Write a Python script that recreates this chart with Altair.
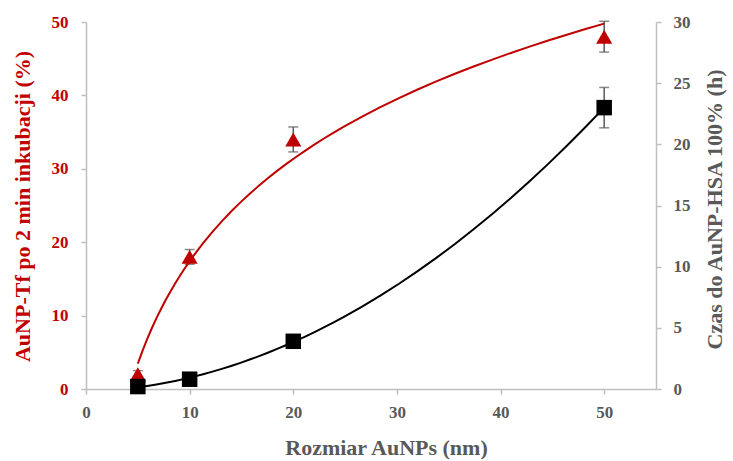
import altair as alt
import pandas as pd

# Data
sizes = [5, 10, 20, 50]                 # AuNP size (nm)
tf_pct = [2.0, 18.0, 34.0, 48.0]        # AuNP-Tf after 2 min incubation (%)
tf_err = [0.5, 1.0, 1.7, 2.1]
hsa_h = [0.2, 0.8, 3.9, 23.0]           # time to AuNP-HSA 100% (h)
hsa_err = [0.3, 0.3, 0.3, 1.65]

x_ticks = [0, 10, 20, 30, 40, 50]
left_ticks = [0, 10, 20, 30, 40, 50]
right_ticks = [0, 5, 10, 15, 20, 25, 30]

RED = "#C00000"
GRAY = "#595959"
AXIS_GRAY = "#BFBFBF"
FONT = "Liberation Serif"

df = pd.DataFrame({
    "size": sizes,
    "tf": tf_pct,
    "tf_lo": [v - e for v, e in zip(tf_pct, tf_err)],
    "tf_hi": [v + e for v, e in zip(tf_pct, tf_err)],
    "hsa": hsa_h,
    "hsa_lo": [v - e for v, e in zip(hsa_h, hsa_err)],
    "hsa_hi": [v + e for v, e in zip(hsa_h, hsa_err)],
})

x_title = "Rozmiar AuNPs (nm)"
left_title = "AuNP-Tf po 2 min inkubacji (%)"
right_title = "Czas do AuNP-HSA 100% (h)"

x_axis = alt.Axis(values=x_ticks, tickSize=5, labelPadding=10, labelFlush=False,
                  labelColor=GRAY, titleColor=GRAY, labelFontSize=17, titleFontSize=22,
                  titleX=300, titleY=65, titleAlign="center", titleBaseline="alphabetic",
                  titleAngle=0)
left_axis = alt.Axis(orient="left", values=left_ticks, tickSize=5, labelPadding=13,
                     labelColor=RED, titleColor=RED, labelFontSize=17, titleFontSize=22,
                     titleX=-64, titleY=184, titleAngle=270, titleAlign="center",
                     titleBaseline="middle")
right_axis = alt.Axis(orient="right", values=right_ticks, tickSize=5, labelPadding=12,
                      labelColor=GRAY, titleColor=GRAY, labelFontSize=17, titleFontSize=22,
                      titleX=58, titleY=187, titleAngle=270, titleAlign="center",
                      titleBaseline="middle")

x_scale = alt.Scale(domain=[0, 55], nice=False)
left_scale = alt.Scale(domain=[0, 50], nice=False)
right_scale = alt.Scale(domain=[0, 30], nice=False)


def X(field="size"):
    return alt.X(field, type="quantitative", scale=x_scale, axis=x_axis, title=x_title)


def YL(field):
    return alt.Y(field, type="quantitative", scale=left_scale, axis=left_axis, title=left_title)


def YR(field):
    return alt.Y(field, type="quantitative", scale=right_scale, axis=right_axis, title=right_title)


base = alt.Chart(df)

# Left (red) series
red_rule = base.mark_rule(color=GRAY, strokeWidth=1.5).encode(x=X(), y=YL("tf_lo"), y2="tf_hi")
red_cap_lo = base.mark_tick(color=GRAY, orient="horizontal", size=10, thickness=1.5).encode(x=X(), y=YL("tf_lo"))
red_cap_hi = base.mark_tick(color=GRAY, orient="horizontal", size=10, thickness=1.5).encode(x=X(), y=YL("tf_hi"))
red_pts = base.mark_point(shape="triangle-up", filled=True, color=RED, size=260, opacity=1).encode(x=X(), y=YL("tf"))
red_line = base.transform_regression("size", "tf", method="log", extent=[5, 50]).mark_line(
    color=RED, strokeWidth=2).encode(x=X(), y=YL("tf"))

left = alt.layer(red_rule, red_cap_lo, red_cap_hi, red_pts, red_line)

# Right (black) series
blk_rule = base.mark_rule(color=GRAY, strokeWidth=1.5).encode(x=X(), y=YR("hsa_lo"), y2="hsa_hi")
blk_cap_lo = base.mark_tick(color=GRAY, orient="horizontal", size=10, thickness=1.5).encode(x=X(), y=YR("hsa_lo"))
blk_cap_hi = base.mark_tick(color=GRAY, orient="horizontal", size=10, thickness=1.5).encode(x=X(), y=YR("hsa_hi"))
blk_pts = base.mark_point(shape="square", filled=True, color="#000000", size=240, opacity=1).encode(x=X(), y=YR("hsa"))
blk_line = base.transform_regression("size", "hsa", method="poly", order=2, extent=[5, 50]).mark_line(
    color="#000000", strokeWidth=2).encode(x=X(), y=YR("hsa"))

right = alt.layer(blk_rule, blk_cap_lo, blk_cap_hi, blk_pts, blk_line)

chart = alt.layer(left, right).resolve_scale(y="independent").properties(
    width=570, height=367,
    autosize=alt.AutoSizeParams(type="none"),
    padding={"left": 86, "top": 22, "right": 77, "bottom": 72},
    background="white",
).configure_view(stroke="transparent").configure_axis(
    grid=False,
    domainColor=AXIS_GRAY, domainWidth=1.5,
    tickColor=AXIS_GRAY, tickWidth=1.5,
    labelFont=FONT, titleFont=FONT,
    labelFontWeight="bold", titleFontWeight="bold",
    labelOverlap=False,
)

chart.save("out.html", embed_options={"renderer": "svg", "actions": False})
